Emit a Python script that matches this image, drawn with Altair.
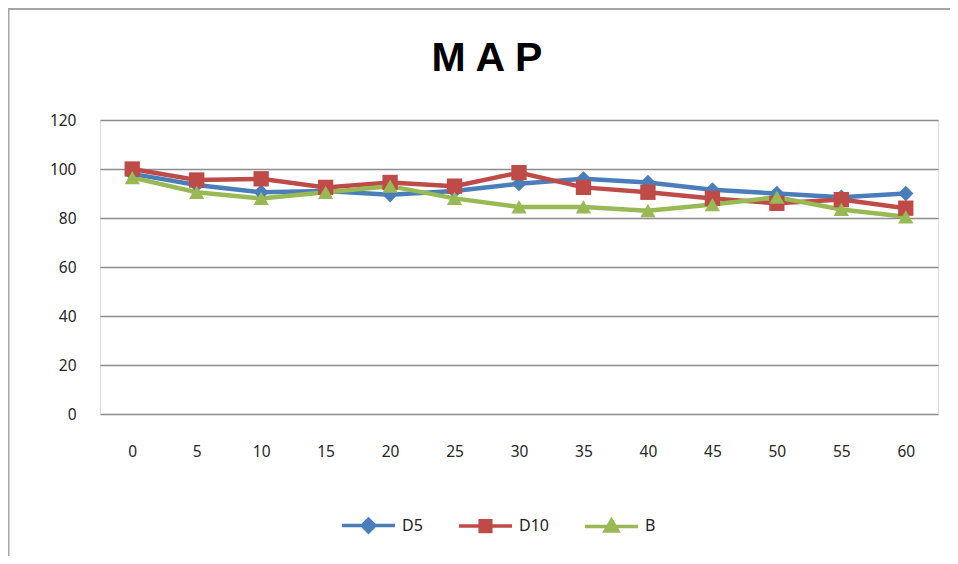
import altair as alt
import pandas as pd

times = [0, 5, 10, 15, 20, 25, 30, 35, 40, 45, 50, 55, 60]
d5 = [98, 93.5, 90.5, 91, 89.5, 91, 94, 96, 94.5, 91.5, 90, 88.5, 90]
d10 = [100, 95.5, 96, 92.5, 94.5, 93, 98.5, 92.5, 90.5, 88, 86, 87.5, 84]
b = [96.5, 90.5, 88, 90.5, 93, 88, 84.5, 84.5, 83, 85.5, 88.5, 83.5, 80.5]

series_names = ["D5", "D10", "B"]
series_colors = ["#4A7EBB", "#BE4B48", "#98B954"]
y_ticks = [0, 20, 40, 60, 80, 100, 120]

rows = []
for name, vals in zip(series_names, [d5, d10, b]):
    for t, v in zip(times, vals):
        rows.append({"t": t, "value": v, "series": name})
df = pd.DataFrame(rows)

order_map = {n: i for i, n in enumerate(series_names)}
df["order"] = df["series"].map(order_map)

color_scale = alt.Scale(domain=series_names, range=series_colors)
shape_scale = alt.Scale(domain=series_names, range=["diamond", "square", "triangle-up"])

legend_shapes = [
    "M-1,0H1M0,-0.24L0.24,0L0,0.24L-0.24,0Z",
    "M-1,0H1M-0.2,-0.2H0.2V0.2H-0.2Z",
    "M-1,0H1M0,-0.24L0.24,0.17H-0.24Z",
]

LABEL_COLOR = "#262626"

x_enc = alt.X("t:O", title=None, sort=times,
              axis=alt.Axis(labelAngle=0, ticks=False, domain=False, grid=False,
                            labelPadding=30, labelFontSize=15.5, labelColor=LABEL_COLOR,
                            labelFont="Noto Sans"))
y_enc = alt.Y("value:Q", title=None,
              scale=alt.Scale(domain=[0, 120], nice=False, zero=True),
              axis=alt.Axis(values=y_ticks, ticks=False, domain=False, grid=True,
                            gridColor="#8c8c8c", gridWidth=1.5, labelPadding=24,
                            labelFontSize=15.5, labelColor=LABEL_COLOR, labelFont="Noto Sans"))

base = alt.Chart(df)

lines = base.mark_line(strokeWidth=4.5).encode(
    x=x_enc, y=y_enc,
    color=alt.Color("series:N", scale=color_scale, legend=None),
    detail="series:N",
    order="t:O",
)

points = base.mark_point(filled=True, size=235, opacity=1).encode(
    x=x_enc, y=y_enc,
    color=alt.Color("series:N", scale=color_scale, legend=None),
    shape=alt.Shape("series:N", scale=shape_scale, legend=None),
    order="order:Q",
)


def make_legend():
    return alt.Legend(title=None, orient="none", direction="horizontal",
                      legendX=240, legendY=377, padding=0,
                      symbolSize=2809, symbolStrokeWidth=3.5,
                      columnPadding=29, labelOffset=5, labelFontSize=16,
                      labelColor="#222222", labelFont="Noto Sans",
                      symbolOpacity=1)


legend_layer = base.transform_filter("false").mark_point(filled=True, opacity=1, strokeWidth=3).encode(
    x=x_enc, y=y_enc,
    fill=alt.Fill("series:N", scale=alt.Scale(domain=series_names, range=series_colors),
                  legend=make_legend()),
    stroke=alt.Stroke("series:N", scale=alt.Scale(domain=series_names, range=series_colors),
                      legend=make_legend()),
    shape=alt.Shape("series:N", scale=alt.Scale(domain=series_names, range=legend_shapes),
                    legend=make_legend()),
)

frame_df = pd.DataFrame({"k": [0]})
left_border = alt.Chart(frame_df).mark_rule(color="#a6a6a6", strokeWidth=3).encode(
    x=alt.value(-92), y=alt.value(-112), y2=alt.value(440))
top_border = alt.Chart(frame_df).mark_rule(color="#a6a6a6", strokeWidth=2).encode(
    x=alt.value(-92), x2=alt.value(850), y=alt.value(-111))

chart = alt.layer(lines, points, legend_layer, left_border, top_border).resolve_scale(
    color="independent", shape="independent", fill="independent", stroke="independent"
).properties(
    width=838, height=294,
    title=alt.TitleParams("M A P", fontSize=41, font="Liberation Sans", fontWeight="bold",
                          color="#000000", anchor="middle", dx=-32, offset=-114, baseline="bottom"),
    autosize=alt.AutoSizeParams(type="none"),
    padding={"left": 92, "top": 112, "right": 12, "bottom": 142},
).configure_view(stroke=None).configure(background="white")

chart.save("out.html", embed_options={"renderer": "svg", "actions": False})
